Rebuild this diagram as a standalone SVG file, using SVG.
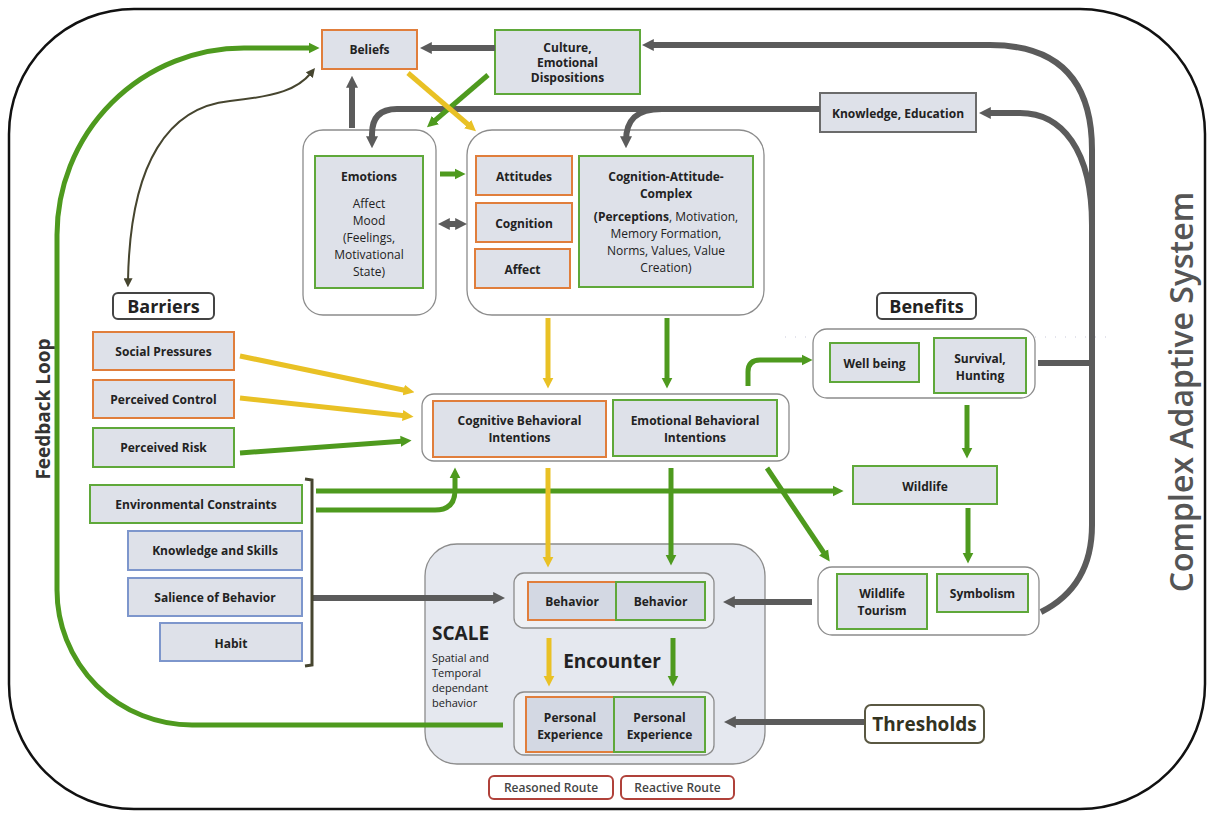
<svg xmlns="http://www.w3.org/2000/svg" width="1207" height="816" viewBox="0 0 1207 816">
<defs>
<style>
text{font-family:"Open Sans","Liberation Sans",sans-serif;fill:#222;text-anchor:middle}
.b{font-weight:700;font-size:12px}
.n{font-weight:400;font-size:12px}
.big{font-weight:700;font-size:18px}
.box{fill:#dee1e9;stroke-width:2}
.o{stroke:#e07e3c}
.g{stroke:#5fa83a}
.bl{stroke:#7d96cc}
.gr{stroke:#6b6b6b}
.grp{fill:#fff;stroke:#8c8c8c;stroke-width:1.3}
.lab{fill:#fff;stroke:#444;stroke-width:2}
.cg{fill:none;stroke:#5b5b5b;stroke-width:6}
.cgr{fill:none;stroke:#4e9a1e;stroke-width:5}
.cy{fill:none;stroke:#e9c125;stroke-width:5}
.co{fill:none;stroke:#46452f;stroke-width:2}
</style>
<marker id="ag" viewBox="0 0 10 10" refX="4" refY="5" markerUnits="userSpaceOnUse" markerWidth="12" markerHeight="14" orient="auto-start-reverse"><path d="M0,0 L10,5 L0,10 z" fill="#5b5b5b"/></marker>
<marker id="agr" viewBox="0 0 10 10" refX="4" refY="5" markerUnits="userSpaceOnUse" markerWidth="11" markerHeight="13" orient="auto"><path d="M0,0 L10,5 L0,10 z" fill="#4e9a1e"/></marker>
<marker id="ay" viewBox="0 0 10 10" refX="4" refY="5" markerUnits="userSpaceOnUse" markerWidth="11" markerHeight="13" orient="auto"><path d="M0,0 L10,5 L0,10 z" fill="#e9c125"/></marker>
<marker id="ao" viewBox="0 0 10 10" refX="3" refY="5" markerUnits="userSpaceOnUse" markerWidth="9" markerHeight="9" orient="auto-start-reverse"><path d="M0,0 L10,5 L0,10 z" fill="#46452f"/></marker>
</defs>
<rect width="1207" height="816" fill="#fff"/>
<rect id="frame" x="9" y="9" width="1196" height="800" rx="125" ry="125" fill="none" stroke="#111" stroke-width="2.5"/>
<line x1="785" y1="337" x2="1110" y2="337" stroke="#c9c9dc" stroke-width="1.2" stroke-dasharray="1 9"/>

<g id="scale"><rect x="425" y="544" width="340" height="220" rx="32" fill="#e5e8ef" stroke="#8c8c8c" stroke-width="1.3"/>
<text x="432" y="640" style="font-weight:700;font-size:19px;text-anchor:start">SCALE</text>
<text x="432" y="662" style="font-size:11px;text-anchor:start">Spatial and</text><text x="432" y="677" style="font-size:11px;text-anchor:start">Temporal</text><text x="432" y="692" style="font-size:11px;text-anchor:start">dependant</text><text x="432" y="707" style="font-size:11px;text-anchor:start">behavior</text>
<text x="612" y="668" style="font-weight:700;font-size:19px">Encounter</text></g>

<g id="beliefs"><rect class="box o" x="322" y="30" width="95" height="39"/><text class="b" x="369.5" y="54">Beliefs</text></g>
<g id="culture"><rect class="box g" x="495" y="30" width="145" height="64"/><text class="b" x="567.5" y="52">Culture,</text><text class="b" x="567.5" y="67">Emotional</text><text class="b" x="567.5" y="82">Dispositions</text></g>
<g id="knowledge-education"><rect class="box gr" x="820" y="93" width="156" height="39"/><text class="b" x="898" y="118">Knowledge, Education</text></g>

<g id="emotions-group"><rect class="grp" x="303" y="130" width="133" height="185" rx="20"/>
<rect class="box g" x="315" y="156" width="108" height="132"/>
<text class="b" x="369" y="181">Emotions</text><text class="n" x="369" y="208">Affect</text><text class="n" x="369" y="225">Mood</text><text class="n" x="369" y="242">(Feelings,</text><text class="n" x="369" y="259">Motivational</text><text class="n" x="369" y="276">State)</text></g>

<g id="cognition-group"><rect class="grp" x="467" y="130" width="297" height="185" rx="25"/>
<rect class="box o" x="476" y="156" width="96" height="39"/><text class="b" x="524" y="181">Attitudes</text>
<rect class="box o" x="476" y="203" width="96" height="39"/><text class="b" x="524" y="228">Cognition</text>
<rect class="box o" x="475" y="249" width="95" height="39"/><text class="b" x="522.5" y="274">Affect</text>
<rect class="box g" x="579" y="156" width="174" height="131"/>
<text class="b" x="666" y="181">Cognition-Attitude-</text><text class="b" x="666" y="198">Complex</text>
<text class="n" x="666" y="221"><tspan font-weight="700">(Perceptions</tspan>, Motivation,</text>
<text class="n" x="666" y="238">Memory Formation,</text><text class="n" x="666" y="255">Norms, Values, Value</text><text class="n" x="666" y="272">Creation)</text></g>

<g id="barriers"><rect class="lab" x="113" y="293" width="101" height="26" rx="5"/><text class="big" x="163.5" y="313">Barriers</text></g>
<g id="social-pressures"><rect class="box o" x="93" y="332" width="141" height="38"/><text class="b" x="163.5" y="356">Social Pressures</text></g>
<g id="perceived-control"><rect class="box o" x="93" y="380" width="141" height="38"/><text class="b" x="163.5" y="404">Perceived Control</text></g>
<g id="perceived-risk"><rect class="box g" x="93" y="428" width="141" height="39"/><text class="b" x="163.5" y="452">Perceived Risk</text></g>
<g id="environmental-constraints"><rect class="box g" x="90" y="485" width="212" height="38"/><text class="b" x="196" y="509">Environmental Constraints</text></g>
<g id="knowledge-skills"><rect class="box bl" x="128" y="531" width="174" height="39"/><text class="b" x="215" y="555">Knowledge and Skills</text></g>
<g id="salience"><rect class="box bl" x="128" y="578" width="174" height="38"/><text class="b" x="215" y="602">Salience of Behavior</text></g>
<g id="habit"><rect class="box bl" x="160" y="623" width="142" height="38"/><text class="b" x="231" y="648">Habit</text></g>

<g id="intentions"><rect class="grp" x="422" y="394" width="367" height="67" rx="12"/>
<rect class="box o" x="433" y="401" width="173" height="56"/><text class="b" x="519.5" y="425">Cognitive Behavioral</text><text class="b" x="519.5" y="442">Intentions</text>
<rect class="box g" x="613" y="400" width="164" height="56"/><text class="b" x="695" y="425">Emotional Behavioral</text><text class="b" x="695" y="442">Intentions</text></g>

<g id="benefits"><rect class="lab" x="877" y="293" width="99" height="26" rx="5"/><text class="big" x="926.5" y="313">Benefits</text></g>
<g id="benefits-group"><rect class="grp" x="813" y="329" width="222" height="69" rx="14"/>
<rect class="box g" x="830" y="343" width="89" height="39"/><text class="b" x="874.5" y="368">Well being</text>
<rect class="box g" x="934" y="338" width="92" height="55"/><text class="b" x="980" y="363">Survival,</text><text class="b" x="980" y="380">Hunting</text></g>
<g id="wildlife"><rect class="box g" x="853" y="466" width="144" height="38"/><text class="b" x="925" y="491">Wildlife</text></g>
<g id="tourism-group"><rect class="grp" x="818" y="567" width="221" height="68" rx="14"/>
<rect class="box g" x="837" y="574" width="90" height="55"/><text class="b" x="882" y="598">Wildlife</text><text class="b" x="882" y="615">Tourism</text>
<rect class="box g" x="937" y="574" width="91" height="38"/><text class="b" x="982.5" y="598">Symbolism</text></g>

<g id="behavior"><rect x="514" y="573" width="200" height="55" rx="10" fill="#eef0f4" stroke="#8c8c8c" stroke-width="1.3"/>
<rect x="528" y="582" width="88" height="38" fill="#d3d8e3" stroke="#e07e3c" stroke-width="2"/><text class="b" x="572" y="606">Behavior</text>
<rect x="616" y="582" width="89" height="38" fill="#d3d8e3" stroke="#5fa83a" stroke-width="2"/><text class="b" x="660.5" y="606">Behavior</text></g>
<g id="personal-experience"><rect x="514" y="692" width="200" height="63" rx="10" fill="#eef0f4" stroke="#8c8c8c" stroke-width="1.3"/>
<rect x="526" y="697" width="88" height="55" fill="#d3d8e3" stroke="#e07e3c" stroke-width="2"/><text class="b" x="570" y="722">Personal</text><text class="b" x="570" y="739">Experience</text>
<rect x="614" y="697" width="91" height="55" fill="#d3d8e3" stroke="#5fa83a" stroke-width="2"/><text class="b" x="659.5" y="722">Personal</text><text class="b" x="659.5" y="739">Experience</text></g>
<g id="thresholds"><rect x="865" y="705" width="119" height="38" rx="6" fill="#fff" stroke="#5a5842" stroke-width="2"/><text x="924.5" y="731" style="font-weight:700;font-size:19px;fill:#33331f">Thresholds</text></g>
<g id="legend">
<rect x="489" y="776" width="124" height="23" rx="5" fill="#fff" stroke="#b0413a" stroke-width="2"/><text x="551" y="792" style="font-weight:600;font-size:12px;fill:#444">Reasoned Route</text>
<rect x="621" y="776" width="113" height="23" rx="5" fill="#fff" stroke="#b0413a" stroke-width="2"/><text x="677.5" y="792" style="font-weight:600;font-size:12px;fill:#444">Reactive Route</text></g>
<text x="50" y="409" transform="rotate(-90 50 409)" style="font-weight:700;font-size:19px;fill:#333">Feedback Loop</text>
<text x="1193" y="392" transform="rotate(-90 1193 392)" style="font-weight:600;font-size:32px;fill:#555">Complex Adaptive System</text>

<g id="connectors">
<path class="cg" marker-end="url(#ag)" d="M495,48 L427,48"/>
<path class="cg" marker-end="url(#ag)" d="M1041,612 C1075,595 1092,565 1092,525 L1092,150 Q1092,45 990,45 L649,45"/>
<path class="cg" marker-end="url(#ag)" d="M1092,225 C1092,150 1062,113 1020,113 L986,113"/>
<path class="cg" d="M1038,363 L1092,363"/>
<path class="cg" marker-end="url(#ag)" d="M820,109 L397,109 Q372,109 372,134 L372,141"/>
<path class="cg" marker-end="url(#ag)" d="M662,109 C636,109 626,120 626,141"/>
<path class="cg" marker-end="url(#ag)" d="M352,128 L352,83"/>
<path class="cg" marker-start="url(#ag)" marker-end="url(#ag)" d="M445,224 L460,224"/>
<path class="cg" marker-end="url(#ag)" d="M313,598 L498,598"/>
<path class="cg" marker-end="url(#ag)" d="M812,602 L730,602"/>
<path class="cg" marker-end="url(#ag)" d="M864,722 L731,722"/>

<path class="cgr" marker-end="url(#agr)" d="M503,725 L192,725 A135,135 0 0 1 57,590 L57,235 A187,187 0 0 1 244,48 L313,48"/>
<path class="cgr" marker-end="url(#agr)" d="M488,75 L432,123"/>
<path class="cgr" marker-end="url(#agr)" d="M440,174 L459,174"/>
<path class="cgr" marker-end="url(#agr)" d="M667,318 L667,382"/>
<path class="cgr" marker-end="url(#agr)" d="M240,453 L405,441"/>
<path class="cgr" marker-end="url(#agr)" d="M748,386 L748,372 Q748,360 760,360 L806,360"/>
<path class="cgr" marker-end="url(#agr)" d="M316,491 L837,491"/>
<path class="cgr" marker-end="url(#agr)" d="M316,510 L435,510 Q455,510 455,490 L455,474"/>
<path class="cgr" marker-end="url(#agr)" d="M671,468 L671,559"/>
<path class="cgr" marker-end="url(#agr)" d="M767,468 L826,556"/>
<path class="cgr" marker-end="url(#agr)" d="M967,405 L967,452"/>
<path class="cgr" marker-end="url(#agr)" d="M968,508 L968,557"/>
<path class="cgr" marker-end="url(#agr)" d="M673,638 L673,680"/>

<path class="cy" marker-end="url(#ay)" d="M408,73 L471,127"/>
<path class="cy" marker-end="url(#ay)" d="M240,356 L408,391"/>
<path class="cy" marker-end="url(#ay)" d="M240,398 L407,416"/>
<path class="cy" marker-end="url(#ay)" d="M548,318 L548,382"/>
<path class="cy" marker-end="url(#ay)" d="M548,468 L548,561"/>
<path class="cy" marker-end="url(#ay)" d="M549,638 L549,680"/>

<path class="co" marker-start="url(#ao)" marker-end="url(#ao)" d="M311,73 C298,89 278,96 230,101 C170,107 130,160 128,281"/>
<path fill="none" stroke="#46452f" stroke-width="3" d="M305,479 L312,480 L312,665 L305,666"/>
</g>
</svg>
